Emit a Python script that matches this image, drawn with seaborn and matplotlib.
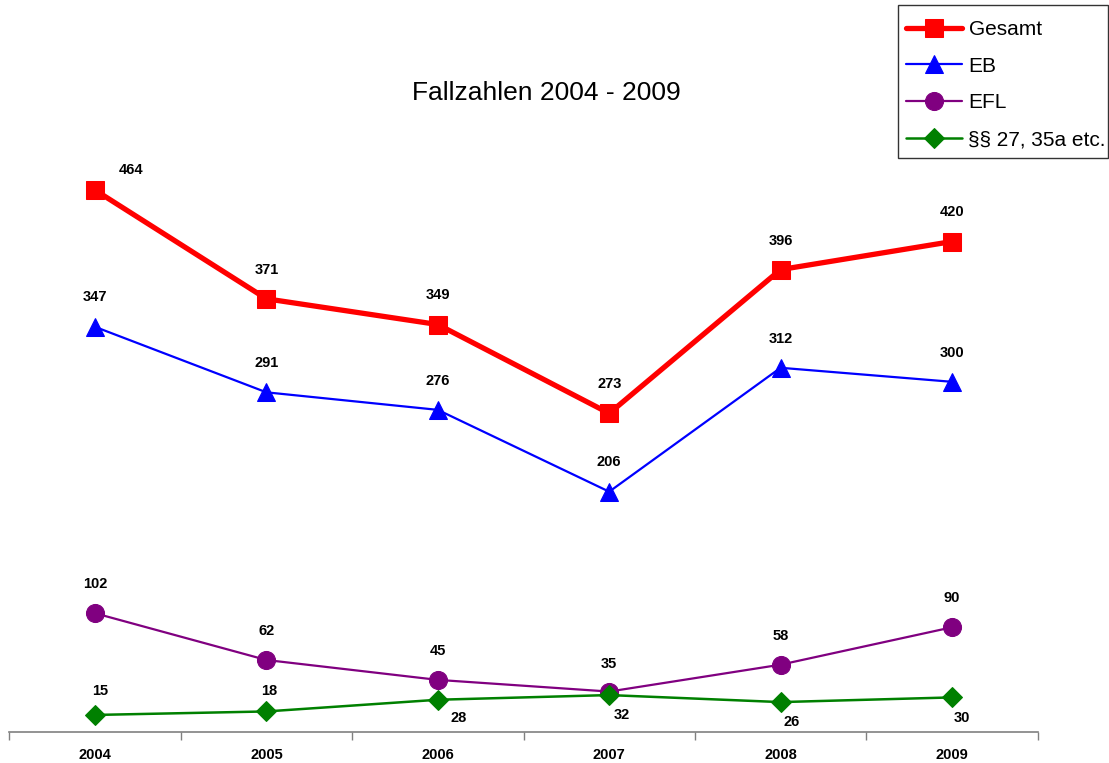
import matplotlib
matplotlib.use("Agg")
import matplotlib.pyplot as plt
from matplotlib.patches import Rectangle
import seaborn as sns
import pandas as pd

years = ["2004", "2005", "2006", "2007", "2008", "2009"]
gesamt = [464, 371, 349, 273, 396, 420]
eb = [347, 291, 276, 206, 312, 300]
efl = [102, 62, 45, 35, 58, 90]
para = [15, 18, 28, 32, 26, 30]
series_names = ["Gesamt", "EB", "EFL", "§§ 27, 35a etc."]

sns.set_theme(style="white")
plt.rcParams["font.family"] = ["Liberation Sans", "DejaVu Sans"]
plt.rcParams["text.color"] = "black"
plt.rcParams["xtick.color"] = "black"

rows = []
for name, vals in zip(series_names, [gesamt, eb, efl, para]):
    for i, (y, v) in enumerate(zip(years, vals)):
        rows.append({"pos": i, "Jahr": y, "Wert": v, "Reihe": name})
df = pd.DataFrame(rows)

styles = {
    "Gesamt": dict(color="#ff0000", marker="s", lw=3.8, ms=13),
    "EB": dict(color="#0000ff", marker="^", lw=1.6, ms=13),
    "EFL": dict(color="#800080", marker="o", lw=1.6, ms=13),
    "§§ 27, 35a etc.": dict(color="#008000", marker="D", lw=1.8, ms=10.5),
}

# label offsets in pixels relative to each point
offsets = {
    "Gesamt": [(36, 20), (0, 29), (0, 30), (0, 29), (0, 29), (0, 30)],
    "EB": [(0, 30), (0, 29), (0, 29), (0, 30), (0, 29), (0, 29)],
    "EFL": [(0, 29), (0, 29), (0, 29), (0, 28), (0, 29), (0, 29)],
    "§§ 27, 35a etc.": [(5, 24), (3, 20), (21, -18), (13, -20), (11, -20), (10, -21)],
}

W, H = 1109, 763
fig = plt.figure(figsize=(W / 100, H / 100), dpi=100)
ax = fig.add_axes([0.0084, 0.04, 0.9273, 0.766])

for name in series_names:
    st = styles[name]
    sub = df[df["Reihe"] == name]
    sns.lineplot(data=sub, x="pos", y="Wert", ax=ax, color=st["color"],
                 marker=st["marker"], linewidth=st["lw"], markersize=st["ms"],
                 markeredgecolor=st["color"], label=name, legend=False)
    for (x, v), off in zip(zip(sub["pos"], sub["Wert"]), offsets[name]):
        ax.annotate(str(v), (x, v), xytext=off, textcoords="offset pixels",
                    ha="center", va="center", fontsize=10.5, fontweight="bold",
                    color="black")

ax.set_xlim(-0.5, 5.5)
ax.set_ylim(0, 500)
ax.set_xlabel("")
ax.set_ylabel("")
ax.set_yticks([])
ax.set_xticks([i - 0.5 for i in range(7)])
ax.set_xticklabels([])
ax.set_xticks(range(6), minor=True)
ax.set_xticklabels(years, minor=True, fontsize=10.5, fontweight="bold")
ax.tick_params(axis="x", which="major", direction="out", length=6, width=1,
               color="#808080", bottom=True)
ax.tick_params(axis="x", which="minor", length=0, pad=11)
for s in ["top", "right", "left"]:
    ax.spines[s].set_visible(False)
ax.spines["bottom"].set_color("#808080")
ax.spines["bottom"].set_linewidth(1.2)
ax.patch.set_alpha(0)

fig.text(546 / W, 1 - 93 / H, "Fallzahlen 2004 - 2009", ha="center",
         va="center", fontsize=19, color="black")

# legend without its own frame; a frame with uneven padding is drawn around it
h, l = ax.get_legend_handles_labels()
leg = fig.legend(h, l, loc="upper left", bbox_to_anchor=(906 / W, 1 - 20 / H),
                 fontsize=15, frameon=False, borderpad=0,
                 handlelength=2.7, handletextpad=0.3, labelspacing=0.85,
                 borderaxespad=0)
for t in leg.get_texts():
    t.set_color("black")

fig.canvas.draw()
bb = leg.get_window_extent()
x0, x1 = bb.x0 - 8, min(bb.x1 + 3, W - 1)
y0, y1 = bb.y0 - 9, bb.y1 + 15
fig.patches.append(Rectangle((x0 / W, y0 / H), (x1 - x0) / W, (y1 - y0) / H,
                             transform=fig.transFigure, fill=False,
                             edgecolor="#333333", linewidth=1.0))

fig.savefig("out.png", dpi=100)
